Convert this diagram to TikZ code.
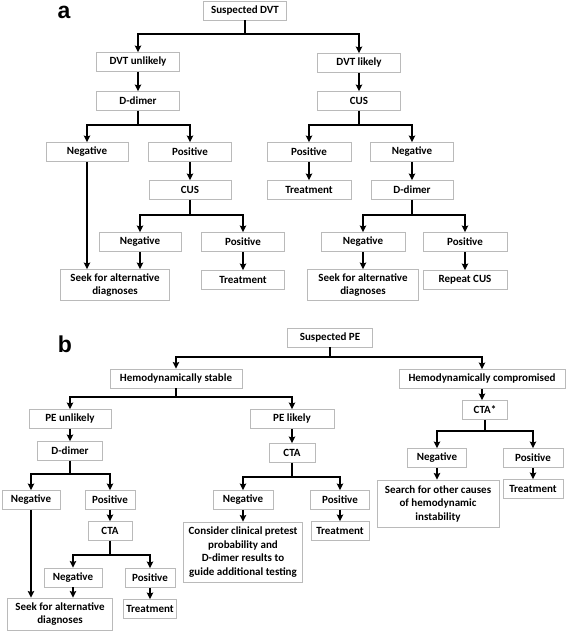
\documentclass[tikz,border=0pt]{standalone}
\usepackage{fontspec}
\setmainfont{Carlito}
\newfontfamily\labfont{Liberation Sans}
\usetikzlibrary{arrows.meta,calc}
\newcommand\forkto[3]{\draw[arr] (#1.south) -- (#1.south |- 0,#2) -| (#3.north);}
\newcommand\downto[2]{\draw[arr] (#1.south) -- (#1.south |- #2.north);}
\begin{document}
\begin{tikzpicture}[x=1pt,y=-1pt,
 box/.style={draw=black!27, line width=0.9pt, fill=white, font=\fontsize{11}{13.5}\selectfont\bfseries, minimum height=19pt, inner sep=1pt, align=center, anchor=center},
 arr/.style={line width=1.6pt, -{Stealth[length=6.5pt,width=6.5pt,inset=1pt]}},
 lab/.style={font=\labfont\bfseries\fontsize{23}{26}\selectfont, inner sep=0pt}]
\useasboundingbox (0,0) rectangle (568,632);
% ---------- part a ----------
\node[lab] (la) at (64,12) {a};
\node[box, minimum width=83pt] (sdvt) at (245,10.5) {Suspected DVT};
\node[box, minimum width=83pt] (dvtu) at (138,62) {DVT unlikely};
\node[box, minimum width=83pt] (dvtl) at (359,63) {DVT likely};
\node[box, minimum width=83pt] (ddA) at (138,101) {D-dimer};
\node[box, minimum width=83pt] (cusA) at (359,101) {CUS};
\node[box, minimum width=82pt] (negA1) at (87,152) {Negative};
\node[box, minimum width=83pt] (posA1) at (190,152) {Positive};
\node[box, minimum width=84pt] (posA2) at (309,152) {Positive};
\node[box, minimum width=83pt] (negA2) at (412,152) {Negative};
\node[box, minimum width=82pt] (cusA2) at (190,190) {CUS};
\node[box, minimum width=84pt] (treatA1) at (309,190) {Treatment};
\node[box, minimum width=82pt] (ddA2) at (412,190) {D-dimer};
\node[box, minimum width=82pt] (negA3) at (140,242) {Negative};
\node[box, minimum width=83pt] (posA3) at (243,242) {Positive};
\node[box, minimum width=84pt] (negA4) at (363,242) {Negative};
\node[box, minimum width=84pt] (posA4) at (465,242) {Positive};
\node[box, minimum width=109pt, minimum height=31pt] (seekA1) at (115,285) {Seek for alternative\\diagnoses};
\node[box, minimum width=83pt] (treatA2) at (243,280) {Treatment};
\node[box, minimum width=111pt, minimum height=31pt] (seekA2) at (363,285) {Seek for alternative\\diagnoses};
\node[box, minimum width=84pt] (repeat) at (465,280) {Repeat CUS};
\forkto{sdvt}{34}{dvtu}
\forkto{sdvt}{34}{dvtl}
\downto{dvtu}{ddA}
\downto{dvtl}{cusA}
\forkto{ddA}{125}{negA1}
\forkto{ddA}{125}{posA1}
\forkto{cusA}{125}{posA2}
\forkto{cusA}{125}{negA2}
\downto{posA1}{cusA2}
\downto{posA2}{treatA1}
\downto{negA2}{ddA2}
\forkto{cusA2}{215}{negA3}
\forkto{cusA2}{215}{posA3}
\forkto{ddA2}{215}{negA4}
\forkto{ddA2}{215}{posA4}
\downto{negA1}{seekA1}
\downto{negA3}{seekA1}
\downto{posA3}{treatA2}
\downto{negA4}{seekA2}
\downto{posA4}{repeat}
% ---------- part b ----------
\node[lab] (lb) at (65,344) {b};
\node[box, minimum width=85pt] (spe) at (330,337.5) {Suspected PE};
\node[box, minimum width=132pt] (stable) at (176,378.5) {Hemodynamically stable};
\node[box, minimum width=166pt] (comp) at (482,379) {Hemodynamically compromised};
\node[box, minimum width=82pt] (peu) at (70,419) {PE unlikely};
\node[box, minimum width=84pt] (pel) at (292,419) {PE likely};
\node[box, minimum width=45pt] (ctastar) at (485,410) {CTA*};
\node[box, minimum width=65pt] (ddB) at (70,451) {D-dimer};
\node[box, minimum width=46pt] (ctaB) at (292,453) {CTA};
\node[box, minimum width=58pt] (negB1) at (31,500) {Negative};
\node[box, minimum width=50pt] (posB1) at (110,500) {Positive};
\node[box, minimum width=60pt] (negB2) at (243,500) {Negative};
\node[box, minimum width=59pt] (posB2) at (340,500) {Positive};
\node[box, minimum width=59pt] (negB3) at (437,458) {Negative};
\node[box, minimum width=60pt] (posB3) at (533,458) {Positive};
\node[box, minimum width=44pt] (ctaB2) at (110,531) {CTA};
\node[box, minimum width=119pt, minimum height=60pt] (consider) at (243,552) {Consider clinical pretest\\probability and\\D-dimer results to\\guide additional testing};
\node[box, minimum width=58pt] (treatB1) at (340,531) {Treatment};
\node[box, minimum width=122pt, minimum height=47pt] (search) at (438,503.5) {Search for other causes\\of hemodynamic\\instability};
\node[box, minimum width=60pt] (treatB2) at (533,489) {Treatment};
\node[box, minimum width=58pt] (negB4) at (73,577.5) {Negative};
\node[box, minimum width=50pt] (posB4) at (150,578) {Positive};
\node[box, minimum width=105pt, minimum height=32pt] (seekB) at (60,614) {Seek for alternative\\diagnoses};
\node[box, minimum width=53pt] (treatB3) at (150,609) {Treatment};
\forkto{spe}{357}{stable}
\forkto{spe}{357}{comp}
\forkto{stable}{397}{peu}
\forkto{stable}{397}{pel}
\downto{comp}{ctastar}
\downto{peu}{ddB}
\downto{pel}{ctaB}
\forkto{ddB}{474}{negB1}
\forkto{ddB}{474}{posB1}
\forkto{ctaB}{477}{negB2}
\forkto{ctaB}{477}{posB2}
\forkto{ctastar}{431}{negB3}
\forkto{ctastar}{431}{posB3}
\downto{posB1}{ctaB2}
\downto{negB2}{consider}
\downto{posB2}{treatB1}
\downto{negB3}{search}
\downto{posB3}{treatB2}
\forkto{ctaB2}{555}{negB4}
\forkto{ctaB2}{555}{posB4}
\downto{negB1}{seekB}
\downto{negB4}{seekB}
\downto{posB4}{treatB3}
\end{tikzpicture}
\end{document}
